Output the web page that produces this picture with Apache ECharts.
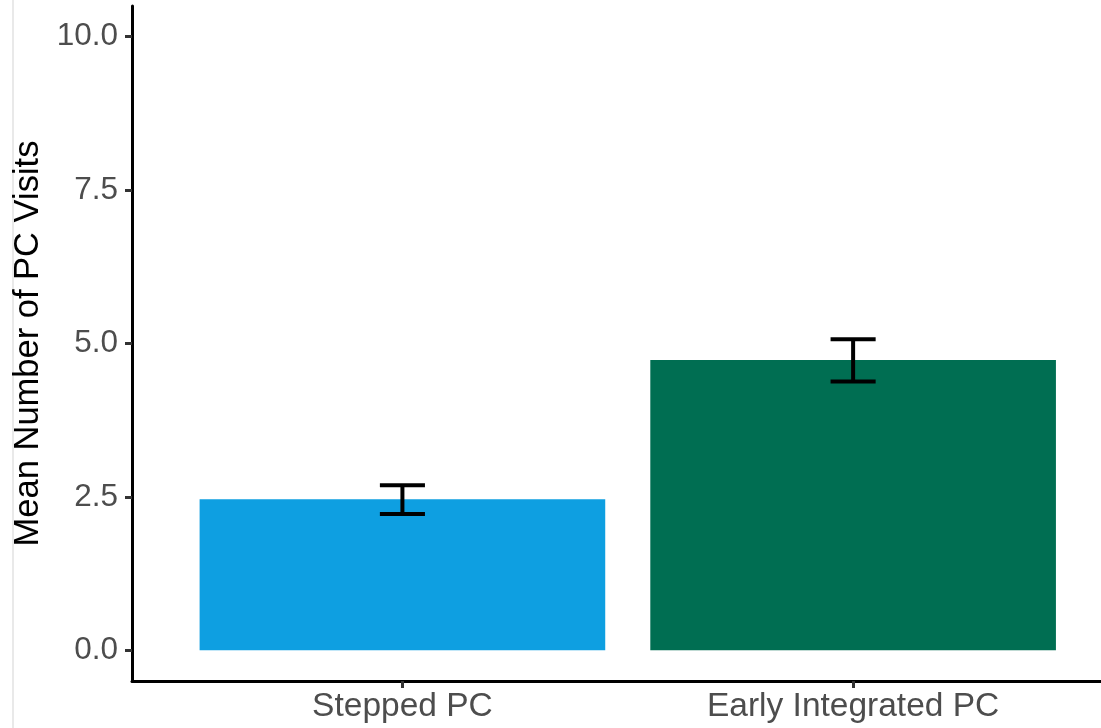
<!DOCTYPE html>
<html>
<head>
<meta charset="utf-8">
<script src="https://cdn.jsdelivr.net/npm/echarts@6/dist/echarts.min.js"></script>
<style>
  html, body { margin: 0; padding: 0; background: #ffffff; }
  #chart { width: 1101px; height: 728px; }
</style>
</head>
<body>
<div id="chart"></div>
<script>
// Mean PC visits per care model, with error bar bounds
const categories = ['Stepped PC', 'Early Integrated PC'];
const meanVisits = [2.46, 4.73];
const lowerBound = [2.22, 4.38];
const upperBound = [2.69, 5.07];
const yTickValues = [0, 2.5, 5, 7.5, 10];

const barColors = ['#0E9FE1', '#006E52'];
const BAR_HALF = 0.45;   // bar width 0.9 of a category unit
const CAP_HALF = 0.05;   // error bar cap width 0.1
const FONT = "'Liberation Sans', Arial, sans-serif";

const positions = categories.map((_, i) => i + 1);
const barData = positions.map((x, i) => [x, meanVisits[i]]);
const errData = positions.map((x, i) => [x, lowerBound[i], upperBound[i]]);

const chart = echarts.init(document.getElementById('chart'), null, { renderer: 'canvas' });

chart.setOption({
  backgroundColor: '#ffffff',
  animation: false,
  graphic: [{
    type: 'line',
    shape: { x1: 13, y1: 0, x2: 13, y2: 728 },
    style: { stroke: '#e2e2e2', lineWidth: 1.5 },
    silent: true
  }],
  grid: { left: 132, right: 0, top: 6, bottom: 47 },
  xAxis: {
    type: 'value',
    min: 0.4,
    max: 2.55,
    splitLine: { show: false },
    axisLine: { show: true, onZero: false, lineStyle: { color: '#000000', width: 3 } },
    axisTick: {
      show: true, customValues: positions, length: 7,
      lineStyle: { color: '#333333', width: 3 }
    },
    axisLabel: {
      customValues: positions,
      formatter: v => categories[Math.round(v) - 1],
      fontSize: 33.5, color: '#4D4D4D', fontFamily: FONT, margin: 9
    }
  },
  yAxis: {
    type: 'value',
    min: -0.5,
    max: 10.5,
    name: 'Mean Number of PC Visits',
    nameLocation: 'middle',
    nameGap: 84,
    nameTextStyle: { fontSize: 34.5, color: '#000000', fontFamily: FONT },
    splitLine: { show: false },
    axisLine: { show: true, onZero: false, lineStyle: { color: '#000000', width: 3 } },
    axisTick: {
      show: true, customValues: yTickValues, length: 7,
      lineStyle: { color: '#333333', width: 3 }
    },
    axisLabel: {
      customValues: yTickValues,
      formatter: v => v.toFixed(1),
      fontSize: 31.5, color: '#4D4D4D', fontFamily: FONT, margin: 14
    }
  },
  series: [
    {
      type: 'custom',
      name: 'mean',
      data: barData,
      encode: { x: 0, y: 1 },
      renderItem: (params, api) => {
        const x = api.value(0);
        const y = api.value(1);
        const p0 = api.coord([x - BAR_HALF, 0]);
        const p1 = api.coord([x + BAR_HALF, y]);
        return {
          type: 'rect',
          shape: { x: p0[0], y: p1[1], width: p1[0] - p0[0], height: p0[1] - p1[1] },
          style: { fill: barColors[params.dataIndex] }
        };
      }
    },
    {
      type: 'custom',
      name: 'error',
      data: errData,
      encode: { x: 0, y: [1, 2] },
      z: 3,
      renderItem: (params, api) => {
        const x = api.value(0);
        const lo = api.value(1);
        const hi = api.value(2);
        const top = api.coord([x, hi]);
        const bot = api.coord([x, lo]);
        const capL = api.coord([x - CAP_HALF, hi])[0];
        const capR = api.coord([x + CAP_HALF, hi])[0];
        const st = { stroke: '#000000', lineWidth: 4 };
        return {
          type: 'group',
          children: [
            { type: 'line', shape: { x1: top[0], y1: top[1], x2: bot[0], y2: bot[1] }, style: st },
            { type: 'line', shape: { x1: capL, y1: top[1], x2: capR, y2: top[1] }, style: st },
            { type: 'line', shape: { x1: capL, y1: bot[1], x2: capR, y2: bot[1] }, style: st }
          ]
        };
      }
    }
  ]
});
</script>
</body>
</html>
